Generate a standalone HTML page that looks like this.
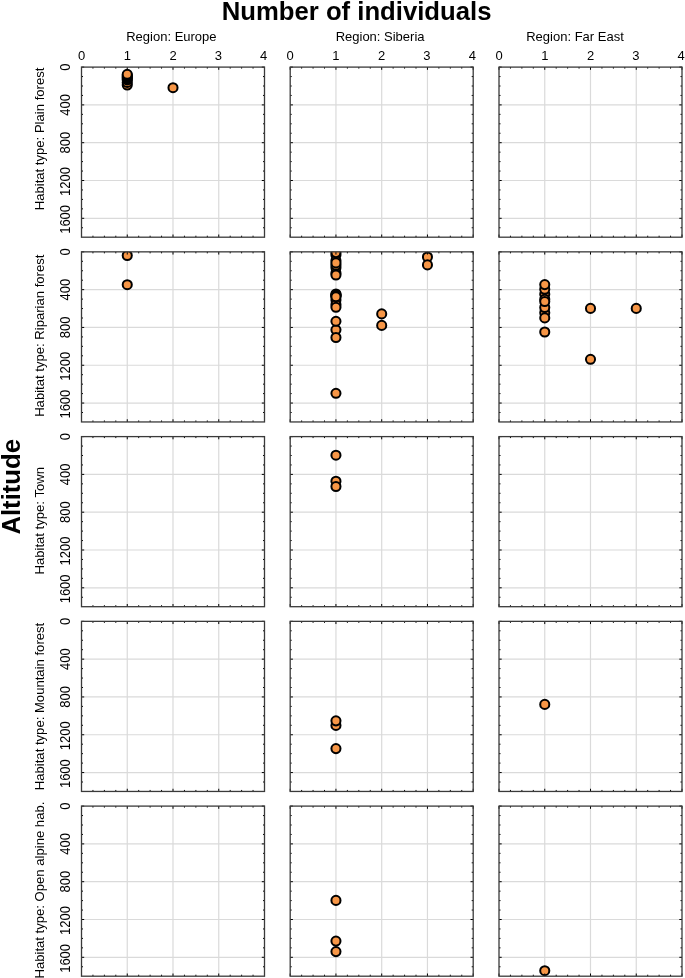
<!DOCTYPE html>
<html lang="en">
<head>
<meta charset="utf-8">
<title>Number of individuals by altitude</title>
<style>
html,body{margin:0;padding:0;background:#fff}
body{width:685px;height:978px;overflow:hidden}
svg{display:block}
text{font-family:"Liberation Sans",Arial,sans-serif;fill:#000}
.t{font-size:13px}
.r{font-size:13.1px}
.b{font-size:25.7px;font-weight:bold;fill:#000}
.g{stroke:#dadada;stroke-width:1.2;fill:none}
.ax{stroke:#3a3a3a;stroke-width:1.3;fill:none}
.tk{stroke:#000;stroke-width:1;fill:none}
.p{fill:#f79646;stroke:#000;stroke-width:2}
</style>
</head>
<body>
<svg width="685" height="978" viewBox="0 0 685 978">
<rect width="685" height="978" fill="#fff"/>
<defs>
<clipPath id="c00"><rect x="81.50" y="67.10" width="183.00" height="170.10"/></clipPath>
<clipPath id="c01"><rect x="290.20" y="67.10" width="183.00" height="170.10"/></clipPath>
<clipPath id="c02"><rect x="499.00" y="67.10" width="183.00" height="170.10"/></clipPath>
<clipPath id="c10"><rect x="81.50" y="251.85" width="183.00" height="170.10"/></clipPath>
<clipPath id="c11"><rect x="290.20" y="251.85" width="183.00" height="170.10"/></clipPath>
<clipPath id="c12"><rect x="499.00" y="251.85" width="183.00" height="170.10"/></clipPath>
<clipPath id="c20"><rect x="81.50" y="436.60" width="183.00" height="170.10"/></clipPath>
<clipPath id="c21"><rect x="290.20" y="436.60" width="183.00" height="170.10"/></clipPath>
<clipPath id="c22"><rect x="499.00" y="436.60" width="183.00" height="170.10"/></clipPath>
<clipPath id="c30"><rect x="81.50" y="621.35" width="183.00" height="170.10"/></clipPath>
<clipPath id="c31"><rect x="290.20" y="621.35" width="183.00" height="170.10"/></clipPath>
<clipPath id="c32"><rect x="499.00" y="621.35" width="183.00" height="170.10"/></clipPath>
<clipPath id="c40"><rect x="81.50" y="806.10" width="183.00" height="170.10"/></clipPath>
<clipPath id="c41"><rect x="290.20" y="806.10" width="183.00" height="170.10"/></clipPath>
<clipPath id="c42"><rect x="499.00" y="806.10" width="183.00" height="170.10"/></clipPath>
</defs>
<text class="b" x="356.6" y="19.6" text-anchor="middle">Number of individuals</text>
<text class="b" transform="translate(19.8 486.8) rotate(-90)" text-anchor="middle">Altitude</text>
<text class="t" x="171.40" y="41.0" text-anchor="middle">Region: Europe</text>
<text class="t" x="81.50" y="60.2" text-anchor="middle">0</text>
<text class="t" x="127.25" y="60.2" text-anchor="middle">1</text>
<text class="t" x="173.00" y="60.2" text-anchor="middle">2</text>
<text class="t" x="218.25" y="60.2" text-anchor="middle">3</text>
<text class="t" x="263.70" y="60.2" text-anchor="middle">4</text>
<text class="t" x="380.10" y="41.0" text-anchor="middle">Region: Siberia</text>
<text class="t" x="290.20" y="60.2" text-anchor="middle">0</text>
<text class="t" x="335.95" y="60.2" text-anchor="middle">1</text>
<text class="t" x="381.70" y="60.2" text-anchor="middle">2</text>
<text class="t" x="426.95" y="60.2" text-anchor="middle">3</text>
<text class="t" x="472.40" y="60.2" text-anchor="middle">4</text>
<text class="t" x="575.00" y="41.0" text-anchor="middle">Region: Far East</text>
<text class="t" x="499.00" y="60.2" text-anchor="middle">0</text>
<text class="t" x="544.75" y="60.2" text-anchor="middle">1</text>
<text class="t" x="590.50" y="60.2" text-anchor="middle">2</text>
<text class="t" x="635.75" y="60.2" text-anchor="middle">3</text>
<text class="t" x="681.20" y="60.2" text-anchor="middle">4</text>
<text class="r" transform="translate(44.1 138.95) rotate(-90) scale(1 1.04)" text-anchor="middle">Habitat type: Plain forest</text>
<text class="t" transform="translate(70.1 67.10) rotate(-90) scale(1 1.08)" text-anchor="middle">0</text>
<text class="t" transform="translate(70.1 104.90) rotate(-90) scale(1 1.08)" text-anchor="middle">400</text>
<text class="t" transform="translate(70.1 142.70) rotate(-90) scale(1 1.08)" text-anchor="middle">800</text>
<text class="t" transform="translate(70.1 181.50) rotate(-90) scale(1 1.08)" text-anchor="middle">1200</text>
<text class="t" transform="translate(70.1 219.40) rotate(-90) scale(1 1.08)" text-anchor="middle">1600</text>
<text class="r" transform="translate(44.1 335.70) rotate(-90) scale(1 1.04)" text-anchor="middle">Habitat type: Riparian forest</text>
<text class="t" transform="translate(70.1 251.85) rotate(-90) scale(1 1.08)" text-anchor="middle">0</text>
<text class="t" transform="translate(70.1 289.65) rotate(-90) scale(1 1.08)" text-anchor="middle">400</text>
<text class="t" transform="translate(70.1 327.45) rotate(-90) scale(1 1.08)" text-anchor="middle">800</text>
<text class="t" transform="translate(70.1 366.25) rotate(-90) scale(1 1.08)" text-anchor="middle">1200</text>
<text class="t" transform="translate(70.1 404.15) rotate(-90) scale(1 1.08)" text-anchor="middle">1600</text>
<text class="r" transform="translate(44.1 520.80) rotate(-90) scale(1 1.04)" text-anchor="middle">Habitat type: Town</text>
<text class="t" transform="translate(70.1 436.60) rotate(-90) scale(1 1.08)" text-anchor="middle">0</text>
<text class="t" transform="translate(70.1 474.40) rotate(-90) scale(1 1.08)" text-anchor="middle">400</text>
<text class="t" transform="translate(70.1 512.20) rotate(-90) scale(1 1.08)" text-anchor="middle">800</text>
<text class="t" transform="translate(70.1 551.00) rotate(-90) scale(1 1.08)" text-anchor="middle">1200</text>
<text class="t" transform="translate(70.1 588.90) rotate(-90) scale(1 1.08)" text-anchor="middle">1600</text>
<text class="r" transform="translate(44.1 706.50) rotate(-90) scale(1 1.04)" text-anchor="middle">Habitat type: Mountain forest</text>
<text class="t" transform="translate(70.1 621.35) rotate(-90) scale(1 1.08)" text-anchor="middle">0</text>
<text class="t" transform="translate(70.1 659.15) rotate(-90) scale(1 1.08)" text-anchor="middle">400</text>
<text class="t" transform="translate(70.1 696.95) rotate(-90) scale(1 1.08)" text-anchor="middle">800</text>
<text class="t" transform="translate(70.1 735.75) rotate(-90) scale(1 1.08)" text-anchor="middle">1200</text>
<text class="t" transform="translate(70.1 773.65) rotate(-90) scale(1 1.08)" text-anchor="middle">1600</text>
<text class="r" transform="translate(44.1 890.10) rotate(-90) scale(1 1.04)" text-anchor="middle">Habitat type: Open alpine hab.</text>
<text class="t" transform="translate(70.1 806.10) rotate(-90) scale(1 1.08)" text-anchor="middle">0</text>
<text class="t" transform="translate(70.1 843.90) rotate(-90) scale(1 1.08)" text-anchor="middle">400</text>
<text class="t" transform="translate(70.1 881.70) rotate(-90) scale(1 1.08)" text-anchor="middle">800</text>
<text class="t" transform="translate(70.1 920.50) rotate(-90) scale(1 1.08)" text-anchor="middle">1200</text>
<text class="t" transform="translate(70.1 958.40) rotate(-90) scale(1 1.08)" text-anchor="middle">1600</text>
<g>
<path class="g" d="M127.25 67.10V237.20M173.00 67.10V237.20M218.75 67.10V237.20M81.50 104.90H264.50M81.50 142.70H264.50M81.50 180.50H264.50M81.50 218.30H264.50"/>
<g clip-path="url(#c00)"><circle class="p" cx="127.25" cy="85.00" r="4.55"/><circle class="p" cx="127.25" cy="82.40" r="4.55"/><circle class="p" cx="127.25" cy="79.90" r="4.55"/><circle class="p" cx="127.25" cy="78.70" r="4.55"/><circle class="p" cx="127.25" cy="77.50" r="4.55"/><circle class="p" cx="127.25" cy="76.40" r="4.55"/><circle class="p" cx="127.25" cy="75.30" r="4.55"/><circle class="p" cx="127.25" cy="74.30" r="4.55"/><circle class="p" cx="173.00" cy="87.70" r="4.55"/></g>
<path class="tk" d="M81.50 67.10v2.7M81.50 237.20v-2.7M92.94 67.10v1.5M92.94 237.20v-1.5M104.38 67.10v1.5M104.38 237.20v-1.5M115.81 67.10v1.5M115.81 237.20v-1.5M127.25 67.10v2.7M127.25 237.20v-2.7M138.69 67.10v1.5M138.69 237.20v-1.5M150.12 67.10v1.5M150.12 237.20v-1.5M161.56 67.10v1.5M161.56 237.20v-1.5M173.00 67.10v2.7M173.00 237.20v-2.7M184.44 67.10v1.5M184.44 237.20v-1.5M195.88 67.10v1.5M195.88 237.20v-1.5M207.31 67.10v1.5M207.31 237.20v-1.5M218.75 67.10v2.7M218.75 237.20v-2.7M230.19 67.10v1.5M230.19 237.20v-1.5M241.62 67.10v1.5M241.62 237.20v-1.5M253.06 67.10v1.5M253.06 237.20v-1.5M264.50 67.10v2.7M264.50 237.20v-2.7M81.50 67.10h2.7M264.50 67.10h-2.7M81.50 76.55h1.5M264.50 76.55h-1.5M81.50 86.00h1.5M264.50 86.00h-1.5M81.50 95.45h1.5M264.50 95.45h-1.5M81.50 104.90h2.7M264.50 104.90h-2.7M81.50 114.35h1.5M264.50 114.35h-1.5M81.50 123.80h1.5M264.50 123.80h-1.5M81.50 133.25h1.5M264.50 133.25h-1.5M81.50 142.70h2.7M264.50 142.70h-2.7M81.50 152.15h1.5M264.50 152.15h-1.5M81.50 161.60h1.5M264.50 161.60h-1.5M81.50 171.05h1.5M264.50 171.05h-1.5M81.50 180.50h2.7M264.50 180.50h-2.7M81.50 189.95h1.5M264.50 189.95h-1.5M81.50 199.40h1.5M264.50 199.40h-1.5M81.50 208.85h1.5M264.50 208.85h-1.5M81.50 218.30h2.7M264.50 218.30h-2.7M81.50 227.75h1.5M264.50 227.75h-1.5"/>
<rect class="ax" x="81.50" y="67.10" width="183.00" height="170.10"/>
</g>
<g>
<path class="g" d="M335.95 67.10V237.20M381.70 67.10V237.20M427.45 67.10V237.20M290.20 104.90H473.20M290.20 142.70H473.20M290.20 180.50H473.20M290.20 218.30H473.20"/>
<path class="tk" d="M290.20 67.10v2.7M290.20 237.20v-2.7M301.64 67.10v1.5M301.64 237.20v-1.5M313.07 67.10v1.5M313.07 237.20v-1.5M324.51 67.10v1.5M324.51 237.20v-1.5M335.95 67.10v2.7M335.95 237.20v-2.7M347.39 67.10v1.5M347.39 237.20v-1.5M358.82 67.10v1.5M358.82 237.20v-1.5M370.26 67.10v1.5M370.26 237.20v-1.5M381.70 67.10v2.7M381.70 237.20v-2.7M393.14 67.10v1.5M393.14 237.20v-1.5M404.57 67.10v1.5M404.57 237.20v-1.5M416.01 67.10v1.5M416.01 237.20v-1.5M427.45 67.10v2.7M427.45 237.20v-2.7M438.89 67.10v1.5M438.89 237.20v-1.5M450.32 67.10v1.5M450.32 237.20v-1.5M461.76 67.10v1.5M461.76 237.20v-1.5M473.20 67.10v2.7M473.20 237.20v-2.7M290.20 67.10h2.7M473.20 67.10h-2.7M290.20 76.55h1.5M473.20 76.55h-1.5M290.20 86.00h1.5M473.20 86.00h-1.5M290.20 95.45h1.5M473.20 95.45h-1.5M290.20 104.90h2.7M473.20 104.90h-2.7M290.20 114.35h1.5M473.20 114.35h-1.5M290.20 123.80h1.5M473.20 123.80h-1.5M290.20 133.25h1.5M473.20 133.25h-1.5M290.20 142.70h2.7M473.20 142.70h-2.7M290.20 152.15h1.5M473.20 152.15h-1.5M290.20 161.60h1.5M473.20 161.60h-1.5M290.20 171.05h1.5M473.20 171.05h-1.5M290.20 180.50h2.7M473.20 180.50h-2.7M290.20 189.95h1.5M473.20 189.95h-1.5M290.20 199.40h1.5M473.20 199.40h-1.5M290.20 208.85h1.5M473.20 208.85h-1.5M290.20 218.30h2.7M473.20 218.30h-2.7M290.20 227.75h1.5M473.20 227.75h-1.5"/>
<rect class="ax" x="290.20" y="67.10" width="183.00" height="170.10"/>
</g>
<g>
<path class="g" d="M544.75 67.10V237.20M590.50 67.10V237.20M636.25 67.10V237.20M499.00 104.90H682.00M499.00 142.70H682.00M499.00 180.50H682.00M499.00 218.30H682.00"/>
<path class="tk" d="M499.00 67.10v2.7M499.00 237.20v-2.7M510.44 67.10v1.5M510.44 237.20v-1.5M521.88 67.10v1.5M521.88 237.20v-1.5M533.31 67.10v1.5M533.31 237.20v-1.5M544.75 67.10v2.7M544.75 237.20v-2.7M556.19 67.10v1.5M556.19 237.20v-1.5M567.62 67.10v1.5M567.62 237.20v-1.5M579.06 67.10v1.5M579.06 237.20v-1.5M590.50 67.10v2.7M590.50 237.20v-2.7M601.94 67.10v1.5M601.94 237.20v-1.5M613.38 67.10v1.5M613.38 237.20v-1.5M624.81 67.10v1.5M624.81 237.20v-1.5M636.25 67.10v2.7M636.25 237.20v-2.7M647.69 67.10v1.5M647.69 237.20v-1.5M659.12 67.10v1.5M659.12 237.20v-1.5M670.56 67.10v1.5M670.56 237.20v-1.5M682.00 67.10v2.7M682.00 237.20v-2.7M499.00 67.10h2.7M682.00 67.10h-2.7M499.00 76.55h1.5M682.00 76.55h-1.5M499.00 86.00h1.5M682.00 86.00h-1.5M499.00 95.45h1.5M682.00 95.45h-1.5M499.00 104.90h2.7M682.00 104.90h-2.7M499.00 114.35h1.5M682.00 114.35h-1.5M499.00 123.80h1.5M682.00 123.80h-1.5M499.00 133.25h1.5M682.00 133.25h-1.5M499.00 142.70h2.7M682.00 142.70h-2.7M499.00 152.15h1.5M682.00 152.15h-1.5M499.00 161.60h1.5M682.00 161.60h-1.5M499.00 171.05h1.5M682.00 171.05h-1.5M499.00 180.50h2.7M682.00 180.50h-2.7M499.00 189.95h1.5M682.00 189.95h-1.5M499.00 199.40h1.5M682.00 199.40h-1.5M499.00 208.85h1.5M682.00 208.85h-1.5M499.00 218.30h2.7M682.00 218.30h-2.7M499.00 227.75h1.5M682.00 227.75h-1.5"/>
<rect class="ax" x="499.00" y="67.10" width="183.00" height="170.10"/>
</g>
<g>
<path class="g" d="M127.25 251.85V421.95M173.00 251.85V421.95M218.75 251.85V421.95M81.50 289.65H264.50M81.50 327.45H264.50M81.50 365.25H264.50M81.50 403.05H264.50"/>
<g clip-path="url(#c10)"><circle class="p" cx="127.25" cy="255.50" r="4.55"/><circle class="p" cx="127.25" cy="284.70" r="4.55"/></g>
<path class="tk" d="M81.50 251.85v2.7M81.50 421.95v-2.7M92.94 251.85v1.5M92.94 421.95v-1.5M104.38 251.85v1.5M104.38 421.95v-1.5M115.81 251.85v1.5M115.81 421.95v-1.5M127.25 251.85v2.7M127.25 421.95v-2.7M138.69 251.85v1.5M138.69 421.95v-1.5M150.12 251.85v1.5M150.12 421.95v-1.5M161.56 251.85v1.5M161.56 421.95v-1.5M173.00 251.85v2.7M173.00 421.95v-2.7M184.44 251.85v1.5M184.44 421.95v-1.5M195.88 251.85v1.5M195.88 421.95v-1.5M207.31 251.85v1.5M207.31 421.95v-1.5M218.75 251.85v2.7M218.75 421.95v-2.7M230.19 251.85v1.5M230.19 421.95v-1.5M241.62 251.85v1.5M241.62 421.95v-1.5M253.06 251.85v1.5M253.06 421.95v-1.5M264.50 251.85v2.7M264.50 421.95v-2.7M81.50 251.85h2.7M264.50 251.85h-2.7M81.50 261.30h1.5M264.50 261.30h-1.5M81.50 270.75h1.5M264.50 270.75h-1.5M81.50 280.20h1.5M264.50 280.20h-1.5M81.50 289.65h2.7M264.50 289.65h-2.7M81.50 299.10h1.5M264.50 299.10h-1.5M81.50 308.55h1.5M264.50 308.55h-1.5M81.50 318.00h1.5M264.50 318.00h-1.5M81.50 327.45h2.7M264.50 327.45h-2.7M81.50 336.90h1.5M264.50 336.90h-1.5M81.50 346.35h1.5M264.50 346.35h-1.5M81.50 355.80h1.5M264.50 355.80h-1.5M81.50 365.25h2.7M264.50 365.25h-2.7M81.50 374.70h1.5M264.50 374.70h-1.5M81.50 384.15h1.5M264.50 384.15h-1.5M81.50 393.60h1.5M264.50 393.60h-1.5M81.50 403.05h2.7M264.50 403.05h-2.7M81.50 412.50h1.5M264.50 412.50h-1.5"/>
<rect class="ax" x="81.50" y="251.85" width="183.00" height="170.10"/>
</g>
<g>
<path class="g" d="M335.95 251.85V421.95M381.70 251.85V421.95M427.45 251.85V421.95M290.20 289.65H473.20M290.20 327.45H473.20M290.20 365.25H473.20M290.20 403.05H473.20"/>
<g clip-path="url(#c11)"><circle class="p" cx="335.95" cy="255.00" r="4.55"/><circle class="p" cx="335.95" cy="260.60" r="4.55"/><circle class="p" cx="335.95" cy="273.00" r="4.55"/><circle class="p" cx="335.95" cy="267.80" r="4.55"/><circle class="p" cx="335.95" cy="265.30" r="4.55"/><circle class="p" cx="335.95" cy="252.60" r="4.55"/><circle class="p" cx="335.95" cy="262.90" r="4.55"/><circle class="p" cx="335.95" cy="275.00" r="4.55"/><circle class="p" cx="335.95" cy="294.00" r="4.55"/><circle class="p" cx="335.95" cy="294.70" r="4.55"/><circle class="p" cx="335.95" cy="295.40" r="4.55"/><circle class="p" cx="335.95" cy="296.00" r="4.55"/><circle class="p" cx="335.95" cy="300.00" r="4.55"/><circle class="p" cx="335.95" cy="304.50" r="4.55"/><circle class="p" cx="335.95" cy="296.70" r="4.55"/><circle class="p" cx="335.95" cy="307.25" r="4.55"/><circle class="p" cx="335.95" cy="329.80" r="4.55"/><circle class="p" cx="335.95" cy="321.30" r="4.55"/><circle class="p" cx="335.95" cy="337.50" r="4.55"/><circle class="p" cx="335.95" cy="393.30" r="4.55"/><circle class="p" cx="381.70" cy="313.90" r="4.55"/><circle class="p" cx="381.70" cy="325.40" r="4.55"/><circle class="p" cx="427.45" cy="257.00" r="4.55"/><circle class="p" cx="427.45" cy="264.90" r="4.55"/></g>
<path class="tk" d="M290.20 251.85v2.7M290.20 421.95v-2.7M301.64 251.85v1.5M301.64 421.95v-1.5M313.07 251.85v1.5M313.07 421.95v-1.5M324.51 251.85v1.5M324.51 421.95v-1.5M335.95 251.85v2.7M335.95 421.95v-2.7M347.39 251.85v1.5M347.39 421.95v-1.5M358.82 251.85v1.5M358.82 421.95v-1.5M370.26 251.85v1.5M370.26 421.95v-1.5M381.70 251.85v2.7M381.70 421.95v-2.7M393.14 251.85v1.5M393.14 421.95v-1.5M404.57 251.85v1.5M404.57 421.95v-1.5M416.01 251.85v1.5M416.01 421.95v-1.5M427.45 251.85v2.7M427.45 421.95v-2.7M438.89 251.85v1.5M438.89 421.95v-1.5M450.32 251.85v1.5M450.32 421.95v-1.5M461.76 251.85v1.5M461.76 421.95v-1.5M473.20 251.85v2.7M473.20 421.95v-2.7M290.20 251.85h2.7M473.20 251.85h-2.7M290.20 261.30h1.5M473.20 261.30h-1.5M290.20 270.75h1.5M473.20 270.75h-1.5M290.20 280.20h1.5M473.20 280.20h-1.5M290.20 289.65h2.7M473.20 289.65h-2.7M290.20 299.10h1.5M473.20 299.10h-1.5M290.20 308.55h1.5M473.20 308.55h-1.5M290.20 318.00h1.5M473.20 318.00h-1.5M290.20 327.45h2.7M473.20 327.45h-2.7M290.20 336.90h1.5M473.20 336.90h-1.5M290.20 346.35h1.5M473.20 346.35h-1.5M290.20 355.80h1.5M473.20 355.80h-1.5M290.20 365.25h2.7M473.20 365.25h-2.7M290.20 374.70h1.5M473.20 374.70h-1.5M290.20 384.15h1.5M473.20 384.15h-1.5M290.20 393.60h1.5M473.20 393.60h-1.5M290.20 403.05h2.7M473.20 403.05h-2.7M290.20 412.50h1.5M473.20 412.50h-1.5"/>
<rect class="ax" x="290.20" y="251.85" width="183.00" height="170.10"/>
</g>
<g>
<path class="g" d="M544.75 251.85V421.95M590.50 251.85V421.95M636.25 251.85V421.95M499.00 289.65H682.00M499.00 327.45H682.00M499.00 365.25H682.00M499.00 403.05H682.00"/>
<g clip-path="url(#c12)"><circle class="p" cx="544.75" cy="294.20" r="4.55"/><circle class="p" cx="544.75" cy="312.70" r="4.55"/><circle class="p" cx="544.75" cy="299.20" r="4.55"/><circle class="p" cx="544.75" cy="307.50" r="4.55"/><circle class="p" cx="544.75" cy="289.30" r="4.55"/><circle class="p" cx="544.75" cy="284.60" r="4.55"/><circle class="p" cx="544.75" cy="301.55" r="4.55"/><circle class="p" cx="544.75" cy="317.90" r="4.55"/><circle class="p" cx="544.75" cy="332.00" r="4.55"/><circle class="p" cx="590.50" cy="308.40" r="4.55"/><circle class="p" cx="590.50" cy="359.30" r="4.55"/><circle class="p" cx="636.25" cy="308.40" r="4.55"/></g>
<path class="tk" d="M499.00 251.85v2.7M499.00 421.95v-2.7M510.44 251.85v1.5M510.44 421.95v-1.5M521.88 251.85v1.5M521.88 421.95v-1.5M533.31 251.85v1.5M533.31 421.95v-1.5M544.75 251.85v2.7M544.75 421.95v-2.7M556.19 251.85v1.5M556.19 421.95v-1.5M567.62 251.85v1.5M567.62 421.95v-1.5M579.06 251.85v1.5M579.06 421.95v-1.5M590.50 251.85v2.7M590.50 421.95v-2.7M601.94 251.85v1.5M601.94 421.95v-1.5M613.38 251.85v1.5M613.38 421.95v-1.5M624.81 251.85v1.5M624.81 421.95v-1.5M636.25 251.85v2.7M636.25 421.95v-2.7M647.69 251.85v1.5M647.69 421.95v-1.5M659.12 251.85v1.5M659.12 421.95v-1.5M670.56 251.85v1.5M670.56 421.95v-1.5M682.00 251.85v2.7M682.00 421.95v-2.7M499.00 251.85h2.7M682.00 251.85h-2.7M499.00 261.30h1.5M682.00 261.30h-1.5M499.00 270.75h1.5M682.00 270.75h-1.5M499.00 280.20h1.5M682.00 280.20h-1.5M499.00 289.65h2.7M682.00 289.65h-2.7M499.00 299.10h1.5M682.00 299.10h-1.5M499.00 308.55h1.5M682.00 308.55h-1.5M499.00 318.00h1.5M682.00 318.00h-1.5M499.00 327.45h2.7M682.00 327.45h-2.7M499.00 336.90h1.5M682.00 336.90h-1.5M499.00 346.35h1.5M682.00 346.35h-1.5M499.00 355.80h1.5M682.00 355.80h-1.5M499.00 365.25h2.7M682.00 365.25h-2.7M499.00 374.70h1.5M682.00 374.70h-1.5M499.00 384.15h1.5M682.00 384.15h-1.5M499.00 393.60h1.5M682.00 393.60h-1.5M499.00 403.05h2.7M682.00 403.05h-2.7M499.00 412.50h1.5M682.00 412.50h-1.5"/>
<rect class="ax" x="499.00" y="251.85" width="183.00" height="170.10"/>
</g>
<g>
<path class="g" d="M127.25 436.60V606.70M173.00 436.60V606.70M218.75 436.60V606.70M81.50 474.40H264.50M81.50 512.20H264.50M81.50 550.00H264.50M81.50 587.80H264.50"/>
<path class="tk" d="M81.50 436.60v2.7M81.50 606.70v-2.7M92.94 436.60v1.5M92.94 606.70v-1.5M104.38 436.60v1.5M104.38 606.70v-1.5M115.81 436.60v1.5M115.81 606.70v-1.5M127.25 436.60v2.7M127.25 606.70v-2.7M138.69 436.60v1.5M138.69 606.70v-1.5M150.12 436.60v1.5M150.12 606.70v-1.5M161.56 436.60v1.5M161.56 606.70v-1.5M173.00 436.60v2.7M173.00 606.70v-2.7M184.44 436.60v1.5M184.44 606.70v-1.5M195.88 436.60v1.5M195.88 606.70v-1.5M207.31 436.60v1.5M207.31 606.70v-1.5M218.75 436.60v2.7M218.75 606.70v-2.7M230.19 436.60v1.5M230.19 606.70v-1.5M241.62 436.60v1.5M241.62 606.70v-1.5M253.06 436.60v1.5M253.06 606.70v-1.5M264.50 436.60v2.7M264.50 606.70v-2.7M81.50 436.60h2.7M264.50 436.60h-2.7M81.50 446.05h1.5M264.50 446.05h-1.5M81.50 455.50h1.5M264.50 455.50h-1.5M81.50 464.95h1.5M264.50 464.95h-1.5M81.50 474.40h2.7M264.50 474.40h-2.7M81.50 483.85h1.5M264.50 483.85h-1.5M81.50 493.30h1.5M264.50 493.30h-1.5M81.50 502.75h1.5M264.50 502.75h-1.5M81.50 512.20h2.7M264.50 512.20h-2.7M81.50 521.65h1.5M264.50 521.65h-1.5M81.50 531.10h1.5M264.50 531.10h-1.5M81.50 540.55h1.5M264.50 540.55h-1.5M81.50 550.00h2.7M264.50 550.00h-2.7M81.50 559.45h1.5M264.50 559.45h-1.5M81.50 568.90h1.5M264.50 568.90h-1.5M81.50 578.35h1.5M264.50 578.35h-1.5M81.50 587.80h2.7M264.50 587.80h-2.7M81.50 597.25h1.5M264.50 597.25h-1.5"/>
<rect class="ax" x="81.50" y="436.60" width="183.00" height="170.10"/>
</g>
<g>
<path class="g" d="M335.95 436.60V606.70M381.70 436.60V606.70M427.45 436.60V606.70M290.20 474.40H473.20M290.20 512.20H473.20M290.20 550.00H473.20M290.20 587.80H473.20"/>
<g clip-path="url(#c21)"><circle class="p" cx="335.95" cy="455.20" r="4.55"/><circle class="p" cx="335.95" cy="481.20" r="4.55"/><circle class="p" cx="335.95" cy="486.50" r="4.55"/></g>
<path class="tk" d="M290.20 436.60v2.7M290.20 606.70v-2.7M301.64 436.60v1.5M301.64 606.70v-1.5M313.07 436.60v1.5M313.07 606.70v-1.5M324.51 436.60v1.5M324.51 606.70v-1.5M335.95 436.60v2.7M335.95 606.70v-2.7M347.39 436.60v1.5M347.39 606.70v-1.5M358.82 436.60v1.5M358.82 606.70v-1.5M370.26 436.60v1.5M370.26 606.70v-1.5M381.70 436.60v2.7M381.70 606.70v-2.7M393.14 436.60v1.5M393.14 606.70v-1.5M404.57 436.60v1.5M404.57 606.70v-1.5M416.01 436.60v1.5M416.01 606.70v-1.5M427.45 436.60v2.7M427.45 606.70v-2.7M438.89 436.60v1.5M438.89 606.70v-1.5M450.32 436.60v1.5M450.32 606.70v-1.5M461.76 436.60v1.5M461.76 606.70v-1.5M473.20 436.60v2.7M473.20 606.70v-2.7M290.20 436.60h2.7M473.20 436.60h-2.7M290.20 446.05h1.5M473.20 446.05h-1.5M290.20 455.50h1.5M473.20 455.50h-1.5M290.20 464.95h1.5M473.20 464.95h-1.5M290.20 474.40h2.7M473.20 474.40h-2.7M290.20 483.85h1.5M473.20 483.85h-1.5M290.20 493.30h1.5M473.20 493.30h-1.5M290.20 502.75h1.5M473.20 502.75h-1.5M290.20 512.20h2.7M473.20 512.20h-2.7M290.20 521.65h1.5M473.20 521.65h-1.5M290.20 531.10h1.5M473.20 531.10h-1.5M290.20 540.55h1.5M473.20 540.55h-1.5M290.20 550.00h2.7M473.20 550.00h-2.7M290.20 559.45h1.5M473.20 559.45h-1.5M290.20 568.90h1.5M473.20 568.90h-1.5M290.20 578.35h1.5M473.20 578.35h-1.5M290.20 587.80h2.7M473.20 587.80h-2.7M290.20 597.25h1.5M473.20 597.25h-1.5"/>
<rect class="ax" x="290.20" y="436.60" width="183.00" height="170.10"/>
</g>
<g>
<path class="g" d="M544.75 436.60V606.70M590.50 436.60V606.70M636.25 436.60V606.70M499.00 474.40H682.00M499.00 512.20H682.00M499.00 550.00H682.00M499.00 587.80H682.00"/>
<path class="tk" d="M499.00 436.60v2.7M499.00 606.70v-2.7M510.44 436.60v1.5M510.44 606.70v-1.5M521.88 436.60v1.5M521.88 606.70v-1.5M533.31 436.60v1.5M533.31 606.70v-1.5M544.75 436.60v2.7M544.75 606.70v-2.7M556.19 436.60v1.5M556.19 606.70v-1.5M567.62 436.60v1.5M567.62 606.70v-1.5M579.06 436.60v1.5M579.06 606.70v-1.5M590.50 436.60v2.7M590.50 606.70v-2.7M601.94 436.60v1.5M601.94 606.70v-1.5M613.38 436.60v1.5M613.38 606.70v-1.5M624.81 436.60v1.5M624.81 606.70v-1.5M636.25 436.60v2.7M636.25 606.70v-2.7M647.69 436.60v1.5M647.69 606.70v-1.5M659.12 436.60v1.5M659.12 606.70v-1.5M670.56 436.60v1.5M670.56 606.70v-1.5M682.00 436.60v2.7M682.00 606.70v-2.7M499.00 436.60h2.7M682.00 436.60h-2.7M499.00 446.05h1.5M682.00 446.05h-1.5M499.00 455.50h1.5M682.00 455.50h-1.5M499.00 464.95h1.5M682.00 464.95h-1.5M499.00 474.40h2.7M682.00 474.40h-2.7M499.00 483.85h1.5M682.00 483.85h-1.5M499.00 493.30h1.5M682.00 493.30h-1.5M499.00 502.75h1.5M682.00 502.75h-1.5M499.00 512.20h2.7M682.00 512.20h-2.7M499.00 521.65h1.5M682.00 521.65h-1.5M499.00 531.10h1.5M682.00 531.10h-1.5M499.00 540.55h1.5M682.00 540.55h-1.5M499.00 550.00h2.7M682.00 550.00h-2.7M499.00 559.45h1.5M682.00 559.45h-1.5M499.00 568.90h1.5M682.00 568.90h-1.5M499.00 578.35h1.5M682.00 578.35h-1.5M499.00 587.80h2.7M682.00 587.80h-2.7M499.00 597.25h1.5M682.00 597.25h-1.5"/>
<rect class="ax" x="499.00" y="436.60" width="183.00" height="170.10"/>
</g>
<g>
<path class="g" d="M127.25 621.35V791.45M173.00 621.35V791.45M218.75 621.35V791.45M81.50 659.15H264.50M81.50 696.95H264.50M81.50 734.75H264.50M81.50 772.55H264.50"/>
<path class="tk" d="M81.50 621.35v2.7M81.50 791.45v-2.7M92.94 621.35v1.5M92.94 791.45v-1.5M104.38 621.35v1.5M104.38 791.45v-1.5M115.81 621.35v1.5M115.81 791.45v-1.5M127.25 621.35v2.7M127.25 791.45v-2.7M138.69 621.35v1.5M138.69 791.45v-1.5M150.12 621.35v1.5M150.12 791.45v-1.5M161.56 621.35v1.5M161.56 791.45v-1.5M173.00 621.35v2.7M173.00 791.45v-2.7M184.44 621.35v1.5M184.44 791.45v-1.5M195.88 621.35v1.5M195.88 791.45v-1.5M207.31 621.35v1.5M207.31 791.45v-1.5M218.75 621.35v2.7M218.75 791.45v-2.7M230.19 621.35v1.5M230.19 791.45v-1.5M241.62 621.35v1.5M241.62 791.45v-1.5M253.06 621.35v1.5M253.06 791.45v-1.5M264.50 621.35v2.7M264.50 791.45v-2.7M81.50 621.35h2.7M264.50 621.35h-2.7M81.50 630.80h1.5M264.50 630.80h-1.5M81.50 640.25h1.5M264.50 640.25h-1.5M81.50 649.70h1.5M264.50 649.70h-1.5M81.50 659.15h2.7M264.50 659.15h-2.7M81.50 668.60h1.5M264.50 668.60h-1.5M81.50 678.05h1.5M264.50 678.05h-1.5M81.50 687.50h1.5M264.50 687.50h-1.5M81.50 696.95h2.7M264.50 696.95h-2.7M81.50 706.40h1.5M264.50 706.40h-1.5M81.50 715.85h1.5M264.50 715.85h-1.5M81.50 725.30h1.5M264.50 725.30h-1.5M81.50 734.75h2.7M264.50 734.75h-2.7M81.50 744.20h1.5M264.50 744.20h-1.5M81.50 753.65h1.5M264.50 753.65h-1.5M81.50 763.10h1.5M264.50 763.10h-1.5M81.50 772.55h2.7M264.50 772.55h-2.7M81.50 782.00h1.5M264.50 782.00h-1.5"/>
<rect class="ax" x="81.50" y="621.35" width="183.00" height="170.10"/>
</g>
<g>
<path class="g" d="M335.95 621.35V791.45M381.70 621.35V791.45M427.45 621.35V791.45M290.20 659.15H473.20M290.20 696.95H473.20M290.20 734.75H473.20M290.20 772.55H473.20"/>
<g clip-path="url(#c31)"><circle class="p" cx="335.95" cy="725.40" r="4.55"/><circle class="p" cx="335.95" cy="720.85" r="4.55"/><circle class="p" cx="335.95" cy="748.60" r="4.55"/></g>
<path class="tk" d="M290.20 621.35v2.7M290.20 791.45v-2.7M301.64 621.35v1.5M301.64 791.45v-1.5M313.07 621.35v1.5M313.07 791.45v-1.5M324.51 621.35v1.5M324.51 791.45v-1.5M335.95 621.35v2.7M335.95 791.45v-2.7M347.39 621.35v1.5M347.39 791.45v-1.5M358.82 621.35v1.5M358.82 791.45v-1.5M370.26 621.35v1.5M370.26 791.45v-1.5M381.70 621.35v2.7M381.70 791.45v-2.7M393.14 621.35v1.5M393.14 791.45v-1.5M404.57 621.35v1.5M404.57 791.45v-1.5M416.01 621.35v1.5M416.01 791.45v-1.5M427.45 621.35v2.7M427.45 791.45v-2.7M438.89 621.35v1.5M438.89 791.45v-1.5M450.32 621.35v1.5M450.32 791.45v-1.5M461.76 621.35v1.5M461.76 791.45v-1.5M473.20 621.35v2.7M473.20 791.45v-2.7M290.20 621.35h2.7M473.20 621.35h-2.7M290.20 630.80h1.5M473.20 630.80h-1.5M290.20 640.25h1.5M473.20 640.25h-1.5M290.20 649.70h1.5M473.20 649.70h-1.5M290.20 659.15h2.7M473.20 659.15h-2.7M290.20 668.60h1.5M473.20 668.60h-1.5M290.20 678.05h1.5M473.20 678.05h-1.5M290.20 687.50h1.5M473.20 687.50h-1.5M290.20 696.95h2.7M473.20 696.95h-2.7M290.20 706.40h1.5M473.20 706.40h-1.5M290.20 715.85h1.5M473.20 715.85h-1.5M290.20 725.30h1.5M473.20 725.30h-1.5M290.20 734.75h2.7M473.20 734.75h-2.7M290.20 744.20h1.5M473.20 744.20h-1.5M290.20 753.65h1.5M473.20 753.65h-1.5M290.20 763.10h1.5M473.20 763.10h-1.5M290.20 772.55h2.7M473.20 772.55h-2.7M290.20 782.00h1.5M473.20 782.00h-1.5"/>
<rect class="ax" x="290.20" y="621.35" width="183.00" height="170.10"/>
</g>
<g>
<path class="g" d="M544.75 621.35V791.45M590.50 621.35V791.45M636.25 621.35V791.45M499.00 659.15H682.00M499.00 696.95H682.00M499.00 734.75H682.00M499.00 772.55H682.00"/>
<g clip-path="url(#c32)"><circle class="p" cx="544.75" cy="704.40" r="4.55"/></g>
<path class="tk" d="M499.00 621.35v2.7M499.00 791.45v-2.7M510.44 621.35v1.5M510.44 791.45v-1.5M521.88 621.35v1.5M521.88 791.45v-1.5M533.31 621.35v1.5M533.31 791.45v-1.5M544.75 621.35v2.7M544.75 791.45v-2.7M556.19 621.35v1.5M556.19 791.45v-1.5M567.62 621.35v1.5M567.62 791.45v-1.5M579.06 621.35v1.5M579.06 791.45v-1.5M590.50 621.35v2.7M590.50 791.45v-2.7M601.94 621.35v1.5M601.94 791.45v-1.5M613.38 621.35v1.5M613.38 791.45v-1.5M624.81 621.35v1.5M624.81 791.45v-1.5M636.25 621.35v2.7M636.25 791.45v-2.7M647.69 621.35v1.5M647.69 791.45v-1.5M659.12 621.35v1.5M659.12 791.45v-1.5M670.56 621.35v1.5M670.56 791.45v-1.5M682.00 621.35v2.7M682.00 791.45v-2.7M499.00 621.35h2.7M682.00 621.35h-2.7M499.00 630.80h1.5M682.00 630.80h-1.5M499.00 640.25h1.5M682.00 640.25h-1.5M499.00 649.70h1.5M682.00 649.70h-1.5M499.00 659.15h2.7M682.00 659.15h-2.7M499.00 668.60h1.5M682.00 668.60h-1.5M499.00 678.05h1.5M682.00 678.05h-1.5M499.00 687.50h1.5M682.00 687.50h-1.5M499.00 696.95h2.7M682.00 696.95h-2.7M499.00 706.40h1.5M682.00 706.40h-1.5M499.00 715.85h1.5M682.00 715.85h-1.5M499.00 725.30h1.5M682.00 725.30h-1.5M499.00 734.75h2.7M682.00 734.75h-2.7M499.00 744.20h1.5M682.00 744.20h-1.5M499.00 753.65h1.5M682.00 753.65h-1.5M499.00 763.10h1.5M682.00 763.10h-1.5M499.00 772.55h2.7M682.00 772.55h-2.7M499.00 782.00h1.5M682.00 782.00h-1.5"/>
<rect class="ax" x="499.00" y="621.35" width="183.00" height="170.10"/>
</g>
<g>
<path class="g" d="M127.25 806.10V976.20M173.00 806.10V976.20M218.75 806.10V976.20M81.50 843.90H264.50M81.50 881.70H264.50M81.50 919.50H264.50M81.50 957.30H264.50"/>
<path class="tk" d="M81.50 806.10v2.7M81.50 976.20v-2.7M92.94 806.10v1.5M92.94 976.20v-1.5M104.38 806.10v1.5M104.38 976.20v-1.5M115.81 806.10v1.5M115.81 976.20v-1.5M127.25 806.10v2.7M127.25 976.20v-2.7M138.69 806.10v1.5M138.69 976.20v-1.5M150.12 806.10v1.5M150.12 976.20v-1.5M161.56 806.10v1.5M161.56 976.20v-1.5M173.00 806.10v2.7M173.00 976.20v-2.7M184.44 806.10v1.5M184.44 976.20v-1.5M195.88 806.10v1.5M195.88 976.20v-1.5M207.31 806.10v1.5M207.31 976.20v-1.5M218.75 806.10v2.7M218.75 976.20v-2.7M230.19 806.10v1.5M230.19 976.20v-1.5M241.62 806.10v1.5M241.62 976.20v-1.5M253.06 806.10v1.5M253.06 976.20v-1.5M264.50 806.10v2.7M264.50 976.20v-2.7M81.50 806.10h2.7M264.50 806.10h-2.7M81.50 815.55h1.5M264.50 815.55h-1.5M81.50 825.00h1.5M264.50 825.00h-1.5M81.50 834.45h1.5M264.50 834.45h-1.5M81.50 843.90h2.7M264.50 843.90h-2.7M81.50 853.35h1.5M264.50 853.35h-1.5M81.50 862.80h1.5M264.50 862.80h-1.5M81.50 872.25h1.5M264.50 872.25h-1.5M81.50 881.70h2.7M264.50 881.70h-2.7M81.50 891.15h1.5M264.50 891.15h-1.5M81.50 900.60h1.5M264.50 900.60h-1.5M81.50 910.05h1.5M264.50 910.05h-1.5M81.50 919.50h2.7M264.50 919.50h-2.7M81.50 928.95h1.5M264.50 928.95h-1.5M81.50 938.40h1.5M264.50 938.40h-1.5M81.50 947.85h1.5M264.50 947.85h-1.5M81.50 957.30h2.7M264.50 957.30h-2.7M81.50 966.75h1.5M264.50 966.75h-1.5"/>
<rect class="ax" x="81.50" y="806.10" width="183.00" height="170.10"/>
</g>
<g>
<path class="g" d="M335.95 806.10V976.20M381.70 806.10V976.20M427.45 806.10V976.20M290.20 843.90H473.20M290.20 881.70H473.20M290.20 919.50H473.20M290.20 957.30H473.20"/>
<g clip-path="url(#c41)"><circle class="p" cx="335.95" cy="900.40" r="4.55"/><circle class="p" cx="335.95" cy="941.10" r="4.55"/><circle class="p" cx="335.95" cy="951.60" r="4.55"/></g>
<path class="tk" d="M290.20 806.10v2.7M290.20 976.20v-2.7M301.64 806.10v1.5M301.64 976.20v-1.5M313.07 806.10v1.5M313.07 976.20v-1.5M324.51 806.10v1.5M324.51 976.20v-1.5M335.95 806.10v2.7M335.95 976.20v-2.7M347.39 806.10v1.5M347.39 976.20v-1.5M358.82 806.10v1.5M358.82 976.20v-1.5M370.26 806.10v1.5M370.26 976.20v-1.5M381.70 806.10v2.7M381.70 976.20v-2.7M393.14 806.10v1.5M393.14 976.20v-1.5M404.57 806.10v1.5M404.57 976.20v-1.5M416.01 806.10v1.5M416.01 976.20v-1.5M427.45 806.10v2.7M427.45 976.20v-2.7M438.89 806.10v1.5M438.89 976.20v-1.5M450.32 806.10v1.5M450.32 976.20v-1.5M461.76 806.10v1.5M461.76 976.20v-1.5M473.20 806.10v2.7M473.20 976.20v-2.7M290.20 806.10h2.7M473.20 806.10h-2.7M290.20 815.55h1.5M473.20 815.55h-1.5M290.20 825.00h1.5M473.20 825.00h-1.5M290.20 834.45h1.5M473.20 834.45h-1.5M290.20 843.90h2.7M473.20 843.90h-2.7M290.20 853.35h1.5M473.20 853.35h-1.5M290.20 862.80h1.5M473.20 862.80h-1.5M290.20 872.25h1.5M473.20 872.25h-1.5M290.20 881.70h2.7M473.20 881.70h-2.7M290.20 891.15h1.5M473.20 891.15h-1.5M290.20 900.60h1.5M473.20 900.60h-1.5M290.20 910.05h1.5M473.20 910.05h-1.5M290.20 919.50h2.7M473.20 919.50h-2.7M290.20 928.95h1.5M473.20 928.95h-1.5M290.20 938.40h1.5M473.20 938.40h-1.5M290.20 947.85h1.5M473.20 947.85h-1.5M290.20 957.30h2.7M473.20 957.30h-2.7M290.20 966.75h1.5M473.20 966.75h-1.5"/>
<rect class="ax" x="290.20" y="806.10" width="183.00" height="170.10"/>
</g>
<g>
<path class="g" d="M544.75 806.10V976.20M590.50 806.10V976.20M636.25 806.10V976.20M499.00 843.90H682.00M499.00 881.70H682.00M499.00 919.50H682.00M499.00 957.30H682.00"/>
<g clip-path="url(#c42)"><circle class="p" cx="544.75" cy="970.70" r="4.55"/></g>
<path class="tk" d="M499.00 806.10v2.7M499.00 976.20v-2.7M510.44 806.10v1.5M510.44 976.20v-1.5M521.88 806.10v1.5M521.88 976.20v-1.5M533.31 806.10v1.5M533.31 976.20v-1.5M544.75 806.10v2.7M544.75 976.20v-2.7M556.19 806.10v1.5M556.19 976.20v-1.5M567.62 806.10v1.5M567.62 976.20v-1.5M579.06 806.10v1.5M579.06 976.20v-1.5M590.50 806.10v2.7M590.50 976.20v-2.7M601.94 806.10v1.5M601.94 976.20v-1.5M613.38 806.10v1.5M613.38 976.20v-1.5M624.81 806.10v1.5M624.81 976.20v-1.5M636.25 806.10v2.7M636.25 976.20v-2.7M647.69 806.10v1.5M647.69 976.20v-1.5M659.12 806.10v1.5M659.12 976.20v-1.5M670.56 806.10v1.5M670.56 976.20v-1.5M682.00 806.10v2.7M682.00 976.20v-2.7M499.00 806.10h2.7M682.00 806.10h-2.7M499.00 815.55h1.5M682.00 815.55h-1.5M499.00 825.00h1.5M682.00 825.00h-1.5M499.00 834.45h1.5M682.00 834.45h-1.5M499.00 843.90h2.7M682.00 843.90h-2.7M499.00 853.35h1.5M682.00 853.35h-1.5M499.00 862.80h1.5M682.00 862.80h-1.5M499.00 872.25h1.5M682.00 872.25h-1.5M499.00 881.70h2.7M682.00 881.70h-2.7M499.00 891.15h1.5M682.00 891.15h-1.5M499.00 900.60h1.5M682.00 900.60h-1.5M499.00 910.05h1.5M682.00 910.05h-1.5M499.00 919.50h2.7M682.00 919.50h-2.7M499.00 928.95h1.5M682.00 928.95h-1.5M499.00 938.40h1.5M682.00 938.40h-1.5M499.00 947.85h1.5M682.00 947.85h-1.5M499.00 957.30h2.7M682.00 957.30h-2.7M499.00 966.75h1.5M682.00 966.75h-1.5"/>
<rect class="ax" x="499.00" y="806.10" width="183.00" height="170.10"/>
</g>
</svg>
</body>
</html>
